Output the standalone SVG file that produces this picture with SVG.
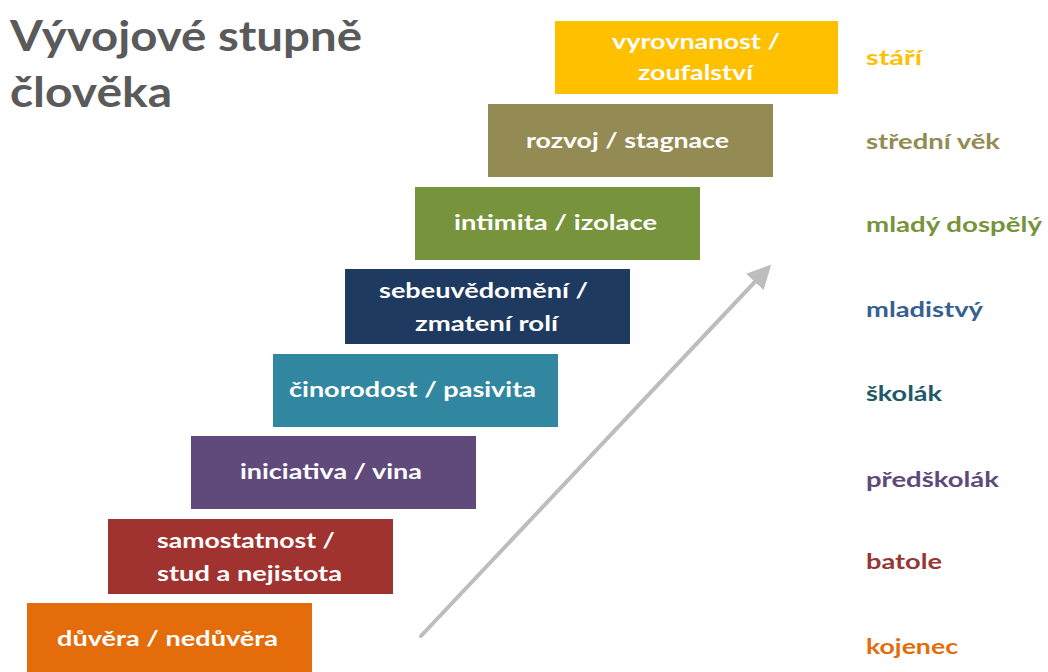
<svg xmlns="http://www.w3.org/2000/svg" width="1048" height="672" viewBox="0 0 1048 672">
<style>
.t{font-family:Lato,"Open Sans","Liberation Sans",sans-serif;font-weight:bold;}
.bx{fill:#fff;font-size:20px;}
.lb{font-size:20px;}
.title{fill:#5a5a5a;font-size:42px;}
</style>
<defs>
<marker id="ah" viewBox="0 0 10 10" refX="8" refY="5" markerWidth="6" markerHeight="6" orient="auto" markerUnits="strokeWidth">
<path d="M0,0 L10,5 L0,10 z" fill="#bdbdbd"/>
</marker>
</defs>
<rect width="1048" height="672" fill="#fff"/>
<g id="title">
<text class="t title" x="10" y="51" textLength="352" lengthAdjust="spacingAndGlyphs">Vývojové stupně</text>
<text class="t title" x="10" y="107" textLength="162" lengthAdjust="spacingAndGlyphs">člověka</text>
</g>
<g id="connectors">
<line x1="421" y1="636" x2="768" y2="268" stroke="#bdbdbd" stroke-width="4" stroke-linecap="round" marker-end="url(#ah)"/>
</g>
<g id="n1"><rect x="27" y="603" width="285" height="69" fill="#e46c0a"/><text class="t bx" x="57" y="646" textLength="221" lengthAdjust="spacingAndGlyphs">důvěra / nedůvěra</text></g>
<g id="n2"><rect x="108" y="519" width="285" height="75" fill="#a0322f"/><text class="t bx" x="157" y="548" textLength="178" lengthAdjust="spacingAndGlyphs">samostatnost /</text><text class="t bx" x="157" y="581" textLength="185" lengthAdjust="spacingAndGlyphs">stud a nejistota</text></g>
<g id="n3"><rect x="191" y="436" width="285" height="73" fill="#604a7b"/><text class="t bx" x="240" y="479" textLength="182" lengthAdjust="spacingAndGlyphs">iniciativa / vina</text></g>
<g id="n4"><rect x="273" y="354" width="285" height="73" fill="#31879f"/><text class="t bx" x="289" y="397" textLength="247" lengthAdjust="spacingAndGlyphs">činorodost / pasivita</text></g>
<g id="n5"><rect x="345" y="269" width="285" height="75" fill="#1f3a60"/><text class="t bx" x="379" y="298" textLength="209" lengthAdjust="spacingAndGlyphs">sebeuvědomění /</text><text class="t bx" x="415" y="331" textLength="143" lengthAdjust="spacingAndGlyphs">zmatení rolí</text></g>
<g id="n6"><rect x="415" y="187" width="285" height="73" fill="#77933c"/><text class="t bx" x="454" y="230" textLength="203" lengthAdjust="spacingAndGlyphs">intimita / izolace</text></g>
<g id="n7"><rect x="488" y="104" width="285" height="73" fill="#948a54"/><text class="t bx" x="526" y="148" textLength="203" lengthAdjust="spacingAndGlyphs">rozvoj / stagnace</text></g>
<g id="n8"><rect x="555" y="21" width="283" height="73" fill="#ffc000"/><text class="t bx" x="612" y="49" textLength="168" lengthAdjust="spacingAndGlyphs">vyrovnanost /</text><text class="t bx" x="638" y="80" textLength="115" lengthAdjust="spacingAndGlyphs">zoufalství</text></g>
<g id="labels">
<text class="t lb" x="866" y="65" fill="#ffc000" textLength="56" lengthAdjust="spacingAndGlyphs">stáří</text>
<text class="t lb" x="866" y="149" fill="#948a54" textLength="134" lengthAdjust="spacingAndGlyphs">střední věk</text>
<text class="t lb" x="866" y="232" fill="#77933c" textLength="176" lengthAdjust="spacingAndGlyphs">mladý dospělý</text>
<text class="t lb" x="866" y="317" fill="#366092" textLength="117" lengthAdjust="spacingAndGlyphs">mladistvý</text>
<text class="t lb" x="866" y="401" fill="#215968" textLength="76" lengthAdjust="spacingAndGlyphs">školák</text>
<text class="t lb" x="866" y="487" fill="#5f497a" textLength="133" lengthAdjust="spacingAndGlyphs">předškolák</text>
<text class="t lb" x="866" y="569" fill="#953735" textLength="76" lengthAdjust="spacingAndGlyphs">batole</text>
<text class="t lb" x="866" y="654" fill="#e46c0a" textLength="92" lengthAdjust="spacingAndGlyphs">kojenec</text>
</g>
</svg>
